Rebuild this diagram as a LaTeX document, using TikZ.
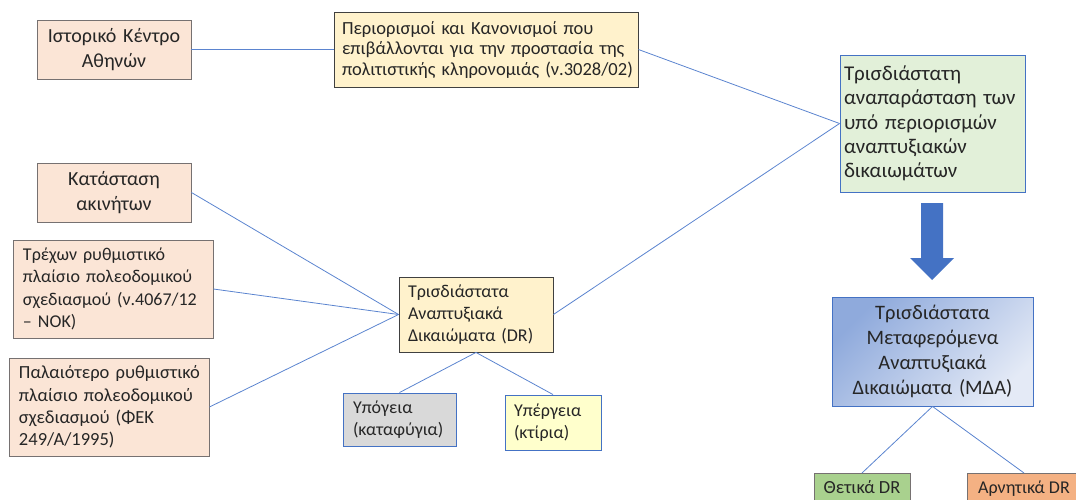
\documentclass[tikz,border=0pt]{standalone}
\usepackage{fontspec}
\setmainfont{Carlito}
\newcommand{\tl}[1]{\mbox{#1}}
\definecolor{peach}{HTML}{FBE5D6}
\definecolor{cream}{HTML}{FFF2CC}
\definecolor{lgreen}{HTML}{E2F0D9}
\definecolor{lgray}{HTML}{D9D9D9}
\definecolor{lyellow}{HTML}{FFFFCC}
\definecolor{mgreen}{HTML}{A9D18E}
\definecolor{morange}{HTML}{F4B183}
\definecolor{oblue}{HTML}{4472C4}
\definecolor{lineblue}{HTML}{5B84CF}
\definecolor{grayedge}{HTML}{767171}
\definecolor{darkedge}{HTML}{404040}
\definecolor{mdatop}{HTML}{8FAADC}
\definecolor{mdabot}{HTML}{E4EAF6}
\begin{document}
\begin{tikzpicture}[x=1pt,y=-1pt,
  box/.style={draw, rectangle, line width=0.9pt, inner ysep=0pt, text=black!85},
  fbig/.style={font=\fontsize{20}{24.4}\selectfont},
  fgreen/.style={font=\fontsize{21}{24.3}\selectfont},
  fmda/.style={font=\fontsize{20.5}{25}\selectfont},
  fmid/.style={font=\fontsize{18}{22.3}\selectfont},
  fpal/.style={font=\fontsize{18.5}{22.3}\selectfont},
  fsmall/.style={font=\fontsize{18.5}{20.5}\selectfont},
  link/.style={draw=lineblue, line width=0.8pt}
]
\useasboundingbox (0,0) rectangle (1076,500);
\clip (0,0) rectangle (1076,500);

\node[box, fbig, fill=peach, draw=grayedge, minimum width=154, minimum height=59,
  text width=144, inner xsep=5, align=center] (hist) at (114,49.5)
  {\tl{Ιστορικό Κέντρο}\\\tl{Αθηνών}};

\node[box, fsmall, fill=cream, draw=darkedge, minimum width=304, minimum height=75,
  text width=288, inner xsep=8, align=left] (restr) at (486,49.5)
  {\tl{Περιορισμοί και Κανονισμοί που}\\\tl{επιβάλλονται για την προστασία της}\\\tl{πολιτιστικής κληρονομιάς (ν.3028/02)}};

\node[box, fgreen, fill=lgreen, draw=oblue, minimum width=185, minimum height=137,
  text width=177, inner xsep=4, align=left] (green) at (932.5,123.5)
  {\tl{Τρισδιάστατη}\\\tl{αναπαράσταση των}\\\tl{υπό περιορισμών}\\\tl{αναπτυξιακών}\\\tl{δικαιωμάτων}};

\node[box, fbig, fill=peach, draw=grayedge, minimum width=154, minimum height=59,
  text width=144, inner xsep=5, align=center] (katast) at (114,192.5)
  {\tl{Κατάσταση}\\\tl{ακινήτων}};

\node[box, fmid, fill=peach, draw=grayedge, minimum width=200, minimum height=98,
  text width=180, inner xsep=10, align=left] (trexon) at (113,289)
  {\tl{Τρέχων ρυθμιστικό}\\\tl{πλαίσιο πολεοδομικού}\\\tl{σχεδιασμού (ν.4067/12}\\\tl{– ΝΟΚ)}};

\node[box, fpal, fill=peach, draw=grayedge, minimum width=200, minimum height=98,
  text width=180, inner xsep=10, align=left] (palaio) at (109,407)
  {\tl{Παλαιότερο ρυθμιστικό}\\\tl{πλαίσιο πολεοδομικού}\\\tl{σχεδιασμού (ΦΕΚ}\\\tl{249/Α/1995)}};

\node[box, fmid, fill=cream, draw=darkedge, minimum width=154, minimum height=75,
  text width=136, inner xsep=9, align=left] (dr) at (476,314.5)
  {\tl{Τρισδιάστατα}\\\tl{Αναπτυξιακά}\\\tl{Δικαιώματα (DR)}};

\node[box, fmid, fill=lgray, draw=oblue, minimum width=113, minimum height=53,
  text width=93, inner xsep=10, align=left] (ypog) at (399.5,419.5)
  {\tl{Υπόγεια}\\\tl{(καταφύγια)}};

\node[box, fmid, fill=lyellow, draw=oblue, minimum width=96, minimum height=55,
  text width=78, inner xsep=9, align=left] (yperg) at (553,422.5)
  {\tl{Υπέργεια}\\\tl{(κτίρια)}};

\node[box, fmda, draw=oblue, top color=mdatop, bottom color=mdabot, shading angle=45,
  minimum width=201, minimum height=109, text width=195, inner xsep=3, align=center] (mda) at (932.5,351.5)
  {\tl{Τρισδιάστατα}\\\tl{Μεταφερόμενα}\\\tl{Αναπτυξιακά}\\\tl{Δικαιώματα (ΜΔΑ)}};

\node[box, fpal, fill=mgreen, draw=grayedge, minimum width=96, minimum height=30,
  inner xsep=5, anchor=north, text depth=4, text height=13, inner ysep=7] (thet) at (862,473)
  {Θετικά DR};

\node[box, fmid, fill=morange, draw=grayedge, minimum width=114, minimum height=30,
  inner xsep=5, anchor=north, text depth=4, text height=13, inner ysep=7] (arn) at (1024,473)
  {Αρνητικά DR};

\path[link] (hist.east) -- (restr.west);
\path[link] (restr.east) -- (green.west);
\path[link] (dr.east) -- (green.west);
\path[link] (katast.east) -- (dr.west);
\path[link] (trexon.east) -- (dr.west);
\path[link] (palaio.east) -- (dr.west);
\path[link] (dr.south) -- (ypog.north);
\path[link] (dr.south) -- (yperg.north);
\path[link] (mda.south) -- (thet.north);
\path[link] (mda.south) -- (arn.north);

\fill[oblue] (921,203) -- (943,203) -- (943,258) -- (954,258) -- (932,280) -- (910,258) -- (921,258) -- cycle;
\end{tikzpicture}
\end{document}
